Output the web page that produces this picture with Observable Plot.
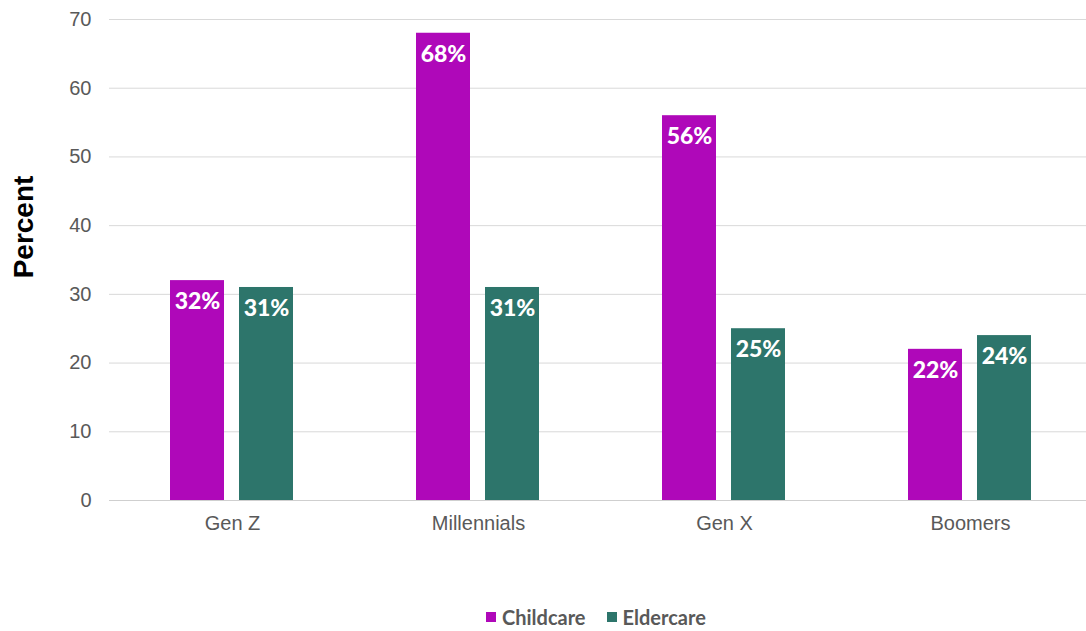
<!DOCTYPE html>
<html>
<head>
<meta charset="utf-8">
<script src="https://cdn.jsdelivr.net/npm/d3@7"></script>
<script src="https://cdn.jsdelivr.net/npm/@observablehq/plot@0.6"></script>
<style>
  body { margin: 0; background: #fff; }
  #wrap { position: relative; width: 1086px; height: 631px; }
  .legend { position: absolute; left: 486px; top: 605px; display: flex; align-items: center;
    font-family: Lato, "Open Sans", sans-serif; font-weight: bold; font-size: 20px; color: #595959; }
  .legend .item { display: flex; align-items: center; margin-right: 21px; }
  .legend .sw { width: 10px; height: 10px; margin-right: 6px; }
</style>
</head>
<body>
<div id="wrap"></div>
<script>
const generations = ["Gen Z", "Millennials", "Gen X", "Boomers"];
const series = ["Childcare", "Eldercare"];
const childcare = [32, 68, 56, 22];
const eldercare = [31, 31, 25, 24];
const yTicks = [0, 10, 20, 30, 40, 50, 60, 70];
const colors = ["#af08b9", "#2d756b"];

const data = [];
generations.forEach((g, i) => {
  data.push({gen: g, type: series[0], value: childcare[i]});
  data.push({gen: g, type: series[1], value: eldercare[i]});
});

const chart = Plot.plot({
  width: 1086,
  height: 560,
  marginLeft: 108,
  marginRight: -8,
  marginTop: 19,
  marginBottom: 60,
  style: {fontFamily: "'Liberation Sans', Arial, sans-serif", background: "transparent"},
  fx: {domain: generations, padding: 0},
  x: {domain: series, axis: null, paddingInner: 0.2143, paddingOuter: 0.868},
  y: {domain: [0, 70]},
  color: {domain: series, range: colors},
  marks: [
    Plot.gridY(yTicks, {stroke: "#d9d9d9", strokeOpacity: 1}),
    Plot.barY(data, {fx: "gen", x: "type", y: "value", fill: "type"}),
    Plot.ruleY([0], {stroke: "#cfcfcf"}),
    Plot.text(data, {fx: "gen", x: "type", y: "value", text: d => d.value + "%", dy: 21,
      fill: "white", fontWeight: 900, fontSize: 23, fontFamily: "Lato, sans-serif"}),
    Plot.axisY(yTicks, {tickSize: 0, tickPadding: 18, fontSize: 20, color: "#595959",
      label: "Percent", labelAnchor: "center", labelArrow: "none"}),
    Plot.axisFx({anchor: "bottom", tickSize: 0, tickPadding: 15, fontSize: 20, color: "#595959", label: null})
  ]
});

d3.select(chart).selectAll('g[aria-label="y-axis label"] text')
  .text("Percent")
  .attr("transform", "translate(33,227) rotate(-90)")
  .attr("dy", null)
  .attr("y", null)
  .attr("x", null)
  .attr("text-anchor", "middle")
  .style("font-size", "28px")
  .style("font-weight", "bold")
  .attr("fill", "#000");
d3.select(chart).selectAll('g[aria-label="y-axis label"]')
  .attr("fill", "#000").attr("font-size", 28).attr("font-weight", "bold").attr("transform", null);

const wrap = document.getElementById("wrap");
wrap.appendChild(chart);

const legend = document.createElement("div");
legend.className = "legend";
series.forEach((s, i) => {
  const item = document.createElement("div");
  item.className = "item";
  const sw = document.createElement("span");
  sw.className = "sw";
  sw.style.background = colors[i];
  const label = document.createElement("span");
  label.textContent = s;
  item.appendChild(sw);
  item.appendChild(label);
  legend.appendChild(item);
});
wrap.appendChild(legend);
</script>
</body>
</html>
